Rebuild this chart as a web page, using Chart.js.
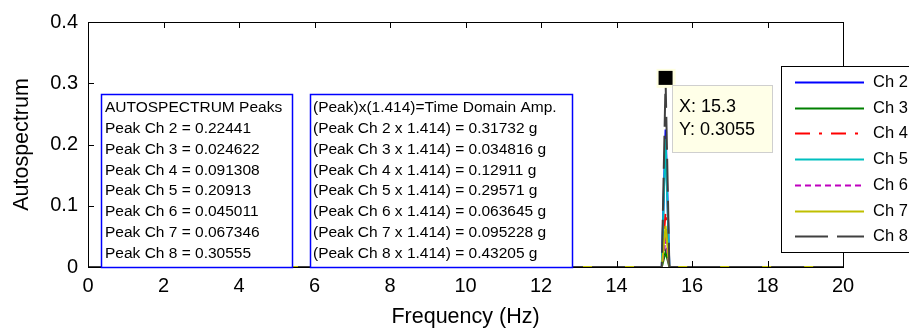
<!DOCTYPE html>
<html><head><meta charset="utf-8">
<script src="https://cdn.jsdelivr.net/npm/chart.js@4/dist/chart.umd.min.js"></script>
<style>html,body{margin:0;padding:0;background:#fff;}#wrap{width:909px;height:331px;}</style>
</head><body><div id="wrap"><canvas id="c" width="909" height="331"></canvas></div>
<script>
// ---- data ----
const channels = ["Ch 2","Ch 3","Ch 4","Ch 5","Ch 6","Ch 7","Ch 8"];
const freq = [0, 15.2, 15.3, 15.4, 20];
const ch2 = [0, 0, 0.22441, 0, 0];
const ch3 = [0, 0, 0.024622, 0, 0];
const ch4 = [0, 0, 0.091308, 0, 0];
const ch5 = [0, 0, 0.20913, 0, 0];
const ch6 = [0, 0, 0.045011, 0, 0];
const ch7 = [0, 0, 0.067346, 0, 0];
const ch8 = [0, 0, 0.30555, 0, 0];
const seriesValues = [ch2, ch3, ch4, ch5, ch6, ch7, ch8];
const colors = ["#0000ff","#008000","#ff0000","#00bfbf","#bf00bf","#bfbf00","#404040"];
const dashes = [[],[],[15,9,3,9],[],[6,4],[],[33,9]];
const xTicks = [0,2,4,6,8,10,12,14,16,18,20];
const yTicks = [0,0.1,0.2,0.3,0.4];
const box1Lines = ["AUTOSPECTRUM Peaks","Peak Ch 2 = 0.22441","Peak Ch 3 = 0.024622","Peak Ch 4 = 0.091308","Peak Ch 5 = 0.20913","Peak Ch 6 = 0.045011","Peak Ch 7 = 0.067346","Peak Ch 8 = 0.30555"];
const box2Lines = ["(Peak)x(1.414)=Time Domain Amp.","(Peak Ch 2 x 1.414) = 0.31732 g","(Peak Ch 3 x 1.414) = 0.034816 g","(Peak Ch 4 x 1.414) = 0.12911 g","(Peak Ch 5 x 1.414) = 0.29571 g","(Peak Ch 6 x 1.414) = 0.063645 g","(Peak Ch 7 x 1.414) = 0.095228 g","(Peak Ch 8 x 1.414) = 0.43205 g"];
const tipX = 15.3, tipY = 0.3055;

const FONT = "'Liberation Sans', Arial, sans-serif";

const datasets = channels.map((name,i)=>({
  label: name,
  data: freq.map((f,j)=>({x:f, y:seriesValues[i][j]})),
  borderColor: colors[i],
  backgroundColor: colors[i],
  borderDash: dashes[i],
  borderWidth: 2,
  pointRadius: 0,
  fill: false,
  tension: 0,
  order: channels.length - i
}));

function drawTextBox(ctx, left, top, right, bottom, lines, x0, y0, step, maxW){
  ctx.save();
  ctx.fillStyle = "#fff";
  ctx.fillRect(left, top, right-left, bottom-top);
  ctx.strokeStyle = "#0000ff";
  ctx.lineWidth = 1.5;
  ctx.strokeRect(left+0.5, top+0.5, right-left, bottom-top);
  ctx.fillStyle = "#000";
  ctx.font = "15.5px " + FONT;
  ctx.textBaseline = "middle";
  ctx.textAlign = "left";
  lines.forEach((t,k)=>ctx.fillText(t, x0, y0 + k*step, maxW));
  ctx.restore();
}

const overlay = {
  id: 'overlay',
  afterDatasetsDraw(chart){
    const ctx = chart.ctx, a = chart.chartArea;
    const xs = chart.scales.x, ys = chart.scales.y;
    ctx.save();
    ctx.strokeStyle = "#000"; ctx.lineWidth = 1;
    ctx.strokeRect(Math.round(a.left)+0.5, Math.round(a.top)+0.5, Math.round(a.right-a.left), Math.round(a.bottom-a.top));
    ctx.beginPath();
    xTicks.forEach(v=>{
      const px = Math.round(xs.getPixelForValue(v))+0.5;
      ctx.moveTo(px, a.bottom); ctx.lineTo(px, a.bottom-6);
      ctx.moveTo(px, a.top); ctx.lineTo(px, a.top+6);
    });
    yTicks.forEach(v=>{
      const py = Math.round(ys.getPixelForValue(v))+0.5;
      ctx.moveTo(a.left, py); ctx.lineTo(a.left+6, py);
      ctx.moveTo(a.right, py); ctx.lineTo(a.right-6, py);
    });
    ctx.stroke();
    ctx.restore();

    drawTextBox(ctx, 101, 94, 292, 267, box1Lines, 105, 108, 20.8, 185);
    drawTextBox(ctx, 310, 94, 572, 267, box2Lines, 313, 108, 20.8, 256);

    // data tip
    const mx = xs.getPixelForValue(tipX), my = ys.getPixelForValue(tipY);
    ctx.save();
    ctx.fillStyle = "#ffffe1";
    ctx.fillRect(mx-9, my-11, 19, 19);
    ctx.fillStyle = "#000";
    ctx.fillRect(mx-7, my-9, 14, 14);
    ctx.fillStyle = "#ffffe8";
    ctx.fillRect(672, 85, 100, 67);
    ctx.strokeStyle = "#cfcfcf"; ctx.lineWidth = 1;
    ctx.strokeRect(672.5, 85.5, 100, 67);
    ctx.fillStyle = "#000";
    ctx.font = "18px " + FONT;
    ctx.textBaseline = "middle";
    ctx.fillText("X: " + tipX, 679, 107);
    ctx.fillText("Y: " + tipY, 679, 130);
    ctx.restore();

    // legend
    ctx.save();
    ctx.fillStyle = "#fff";
    ctx.fillRect(781, 66, 140, 186);
    ctx.strokeStyle = "#000"; ctx.lineWidth = 1;
    ctx.strokeRect(781.5, 66.5, 140, 186);
    ctx.font = "16.5px " + FONT;
    ctx.textBaseline = "middle";
    chart.data.datasets.forEach((d,k)=>{
      const y = Math.round(82 + k*25.7)+0.5;
      ctx.strokeStyle = d.borderColor;
      ctx.lineWidth = 2;
      ctx.setLineDash(d.borderDash);
      ctx.beginPath(); ctx.moveTo(795, y); ctx.lineTo(864, y); ctx.stroke();
      ctx.setLineDash([]);
      ctx.fillStyle = "#000";
      ctx.fillText(d.label, 873, y);
    });
    ctx.restore();
  }
};

new Chart(document.getElementById('c'), {
  type: 'line',
  data: { datasets },
  options: {
    responsive: false,
    animation: false,
    events: [],
    layout: { padding: { left: 0, right: 66, top: 20, bottom: 0 } },
    plugins: { legend: { display: false }, tooltip: { enabled: false } },
    scales: {
      x: {
        type: 'linear', min: 0, max: 20,
        afterBuildTicks(s){ s.ticks = xTicks.map(v=>({value:v})); },
        afterFit(s){ s.height = 64; },
        grid: { display: false, drawTicks: false },
        border: { display: false },
        ticks: { color: '#000', font: { family: FONT, size: 20 }, padding: 7, maxRotation: 0, autoSkip: false,
                 callback: v => String(v) },
        title: { display: true, text: 'Frequency (Hz)', color: '#000', font: { family: FONT, size: 21.5 }, padding: { top: 0, bottom: 1 } }
      },
      y: {
        type: 'linear', min: 0, max: 0.4,
        afterBuildTicks(s){ s.ticks = yTicks.map(v=>({value:v})); },
        afterFit(s){ s.width = 88; },
        grid: { display: false, drawTicks: false },
        border: { display: false },
        ticks: { color: '#000', font: { family: FONT, size: 20 }, padding: 10, autoSkip: false,
                 callback: v => String(v) },
        title: { display: true, text: 'Autospectrum', color: '#000', font: { family: FONT, size: 21.5 }, padding: { top: 9, bottom: 0 } }
      }
    }
  },
  plugins: [overlay]
});
</script>
</body></html>
